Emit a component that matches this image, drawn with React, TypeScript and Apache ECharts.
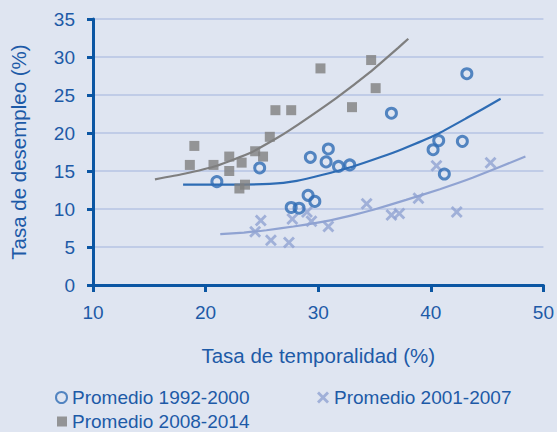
import React, { useEffect, useRef } from "react";
import * as echarts from "echarts";

const xTicks = [10, 20, 30, 40, 50];
const yTicks = [0, 5, 10, 15, 20, 25, 30, 35];

const seriesNames = ["Promedio 1992-2000", "Promedio 2001-2007", "Promedio 2008-2014"];

// Promedio 1992-2000 [temporalidad, desempleo]
const p1992: number[][] = [
  [21.0, 13.6], [24.8, 15.4], [27.6, 10.2], [28.3, 10.1], [29.1, 11.8], [29.7, 11.0],
  [29.3, 16.8], [30.9, 17.9], [30.7, 16.2], [31.8, 15.6], [32.8, 15.8], [36.5, 22.6],
  [40.2, 17.8], [40.7, 19.0], [41.2, 14.6], [42.8, 18.9], [43.2, 27.8],
];
// Promedio 2001-2007
const p2001: number[][] = [
  [24.9, 8.5], [24.4, 7.0], [25.8, 5.9], [27.4, 5.6], [27.7, 8.7], [29.4, 8.4],
  [29.0, 9.6], [30.9, 7.7], [34.3, 10.7], [36.5, 9.2], [37.2, 9.4], [38.9, 11.4],
  [40.5, 15.7], [42.3, 9.6], [45.3, 16.1],
];
// Promedio 2008-2014
const p2008: number[][] = [
  [19.0, 18.3], [18.6, 15.8], [20.7, 15.8], [22.1, 16.9], [22.1, 15.0], [23.2, 16.1],
  [23.0, 12.7], [23.5, 13.2], [24.4, 17.6], [25.1, 16.9], [25.7, 19.5], [26.2, 23.0],
  [27.6, 23.0], [30.2, 28.5], [34.7, 29.6], [35.1, 25.9], [33.0, 23.4],
];

// Trend lines
const trend1992: number[][] = [
  [18.0, 13.2], [22.0, 13.2], [25.7, 13.3], [28.1, 13.7], [30.4, 14.5], [33.1, 15.6],
  [35.5, 16.8], [37.5, 17.9], [40.5, 19.8], [43.1, 21.9], [46.2, 24.5],
];
const trend2001: number[][] = [
  [21.3, 6.7], [23.4, 6.9], [25.4, 7.2], [27.8, 7.7], [30.7, 8.4], [32.8, 9.1],
  [34.9, 9.9], [37.8, 11.2], [40.8, 12.6], [43.7, 14.1], [48.4, 16.9],
];
const trend2008: number[][] = [
  [15.5, 13.9], [18.0, 14.6], [21.0, 15.7], [24.0, 17.4], [26.3, 19.3], [27.5, 20.4],
  [31.6, 24.6], [34.6, 28.0], [37.1, 31.2], [38.0, 32.4],
];

const C_BLUE = "#2e6cb4";
const C_LIGHT = "#90a3d2";
const C_GRAY = "#7f7f7f";
const C_TEXT = "#1d5aa7";
const C_AXIS = "#0b56a3";
const FONT = "'Liberation Sans', Arial, sans-serif";

const CROSS = "path://M0,2 L2,0 L6,4 L10,0 L12,2 L8,6 L12,10 L10,12 L6,8 L2,12 L0,10 L4,6 Z";

export default function App() {
  const ref = useRef<HTMLDivElement>(null);
  useEffect(() => {
    if (!ref.current) return;
    const chart = echarts.init(ref.current, null, { renderer: "svg" });
    const legendText = { color: C_TEXT, fontSize: 19, fontFamily: FONT };
    const trendBase = {
      type: "line", smooth: 0.15, showSymbol: false, silent: true, z: 1,
    };
    chart.setOption({
      animation: false,
      backgroundColor: "#dfe5f1",
      textStyle: { fontFamily: FONT },
      grid: { left: 92, right: 13, top: 19, bottom: 147 },
      legend: [
        { data: [seriesNames[0]], left: 55, top: 388, itemWidth: 11, itemHeight: 11, itemGap: 4, textStyle: legendText, padding: 0 },
        { data: [seriesNames[1]], left: 317, top: 388, itemWidth: 12, itemHeight: 12, itemGap: 3, textStyle: legendText, padding: 0 },
        { data: [seriesNames[2]], left: 57, top: 412, itemWidth: 10, itemHeight: 10, itemGap: 3, textStyle: legendText, padding: 0 },
      ],
      xAxis: {
        type: "value",
        min: xTicks[0],
        max: xTicks[xTicks.length - 1],
        interval: 10,
        name: "Tasa de temporalidad (%)",
        nameLocation: "middle",
        nameGap: 60,
        nameTextStyle: { color: C_TEXT, fontSize: 20.5, fontFamily: FONT },
        axisLine: { show: true, lineStyle: { color: C_AXIS, width: 3 } },
        axisTick: { show: true, length: 7, lineStyle: { color: C_AXIS, width: 3 } },
        axisLabel: { color: C_TEXT, fontSize: 19, margin: 18, fontFamily: FONT },
        splitLine: { show: false },
      },
      yAxis: {
        type: "value",
        min: yTicks[0],
        max: yTicks[yTicks.length - 1],
        interval: 5,
        name: "Tasa de desempleo (%)",
        nameLocation: "middle",
        nameGap: 64,
        nameTextStyle: { color: C_TEXT, fontSize: 20.5, fontFamily: FONT },
        axisLine: { show: true, lineStyle: { color: C_AXIS, width: 3 } },
        axisTick: { show: true, length: 6, lineStyle: { color: C_AXIS, width: 3 } },
        axisLabel: { color: C_TEXT, fontSize: 19, margin: 18, fontFamily: FONT },
        splitLine: { show: true, lineStyle: { color: "#b6c3e3", width: 1.5 } },
      },
      series: [
        { ...trendBase, data: trend2001, lineStyle: { color: C_LIGHT, width: 2.2 } },
        { ...trendBase, data: trend2008, lineStyle: { color: C_GRAY, width: 2.2 } },
        { ...trendBase, data: trend1992, lineStyle: { color: C_BLUE, width: 2.2 } },
        {
          name: seriesNames[1], type: "scatter", data: p2001, symbol: CROSS, symbolSize: 12,
          itemStyle: { color: C_LIGHT }, z: 2,
        },
        {
          name: seriesNames[2], type: "scatter", data: p2008, symbol: "rect", symbolSize: 10,
          itemStyle: { color: C_GRAY }, z: 3,
        },
        {
          name: seriesNames[0], type: "scatter", data: p1992, symbol: "circle", symbolSize: 10,
          itemStyle: { color: "rgba(0,0,0,0)", borderColor: C_BLUE, borderWidth: 3 }, z: 4,
        },
      ],
    });
    return () => chart.dispose();
  }, []);
  return (
    <div
      ref={ref}
      style={{ position: "fixed", left: 0, top: 0, width: 557, height: 432 }}
    />
  );
}
